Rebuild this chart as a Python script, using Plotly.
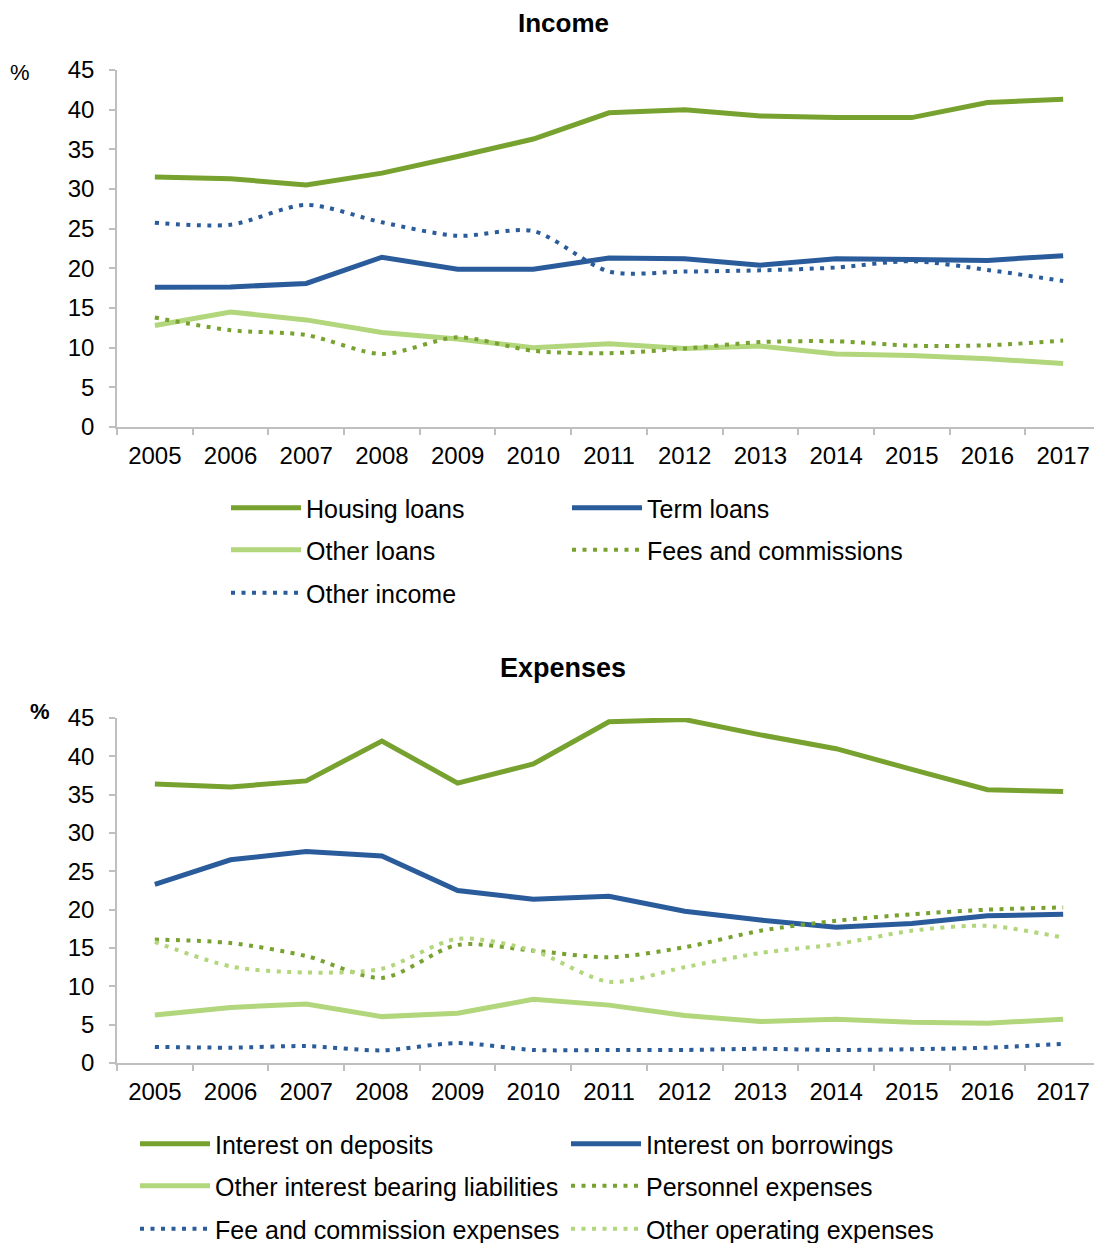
import plotly.graph_objects as go

years = [str(y) for y in range(2005, 2018)]

# Income (%)
housing_loans = [31.5, 31.3, 30.5, 32.0, 34.1, 36.3, 39.6, 40.0, 39.2, 39.0, 39.0, 40.9, 41.3]
term_loans = [17.6, 17.65, 18.1, 21.4, 19.9, 19.9, 21.3, 21.2, 20.4, 21.2, 21.1, 21.0, 21.6]
other_loans = [12.8, 14.5, 13.5, 11.9, 11.1, 10.0, 10.5, 9.9, 10.2, 9.2, 9.0, 8.6, 8.0]
fees_commissions = [13.8, 12.2, 11.6, 9.2, 11.3, 9.6, 9.3, 9.9, 10.7, 10.8, 10.25, 10.3, 10.9]
other_income = [25.75, 25.5, 28.0, 25.8, 24.1, 24.7, 19.6, 19.6, 19.75, 20.1, 20.9, 19.8, 18.4]

# Expenses (%)
int_deposits = [36.4, 36.0, 36.8, 42.0, 36.5, 39.0, 44.5, 44.8, 42.8, 41.0, 38.3, 35.65, 35.4]
int_borrowings = [23.3, 26.5, 27.6, 27.0, 22.5, 21.35, 21.75, 19.8, 18.65, 17.7, 18.2, 19.2, 19.4]
other_ibl = [6.25, 7.25, 7.7, 6.05, 6.5, 8.3, 7.55, 6.2, 5.4, 5.7, 5.3, 5.2, 5.7]
personnel = [16.1, 15.65, 13.95, 11.1, 15.4, 14.65, 13.8, 15.1, 17.25, 18.55, 19.4, 20.0, 20.3]
fee_comm_exp = [2.1, 2.0, 2.2, 1.65, 2.6, 1.7, 1.7, 1.7, 1.85, 1.7, 1.8, 2.0, 2.5]
other_opex = [15.8, 12.6, 11.8, 12.3, 16.2, 14.65, 10.6, 12.5, 14.35, 15.5, 17.25, 17.9, 16.35]

y_ticks = [0, 5, 10, 15, 20, 25, 30, 35, 40, 45]

GREEN = "#78A22F"
BLUE = "#2A5B9B"
LIGHT = "#B2D67B"
FONT = "Liberation Sans, Arial, sans-serif"
PAGE_OFF = 8  # default page body margin
W, H = 1102 - PAGE_OFF, 1243 - PAGE_OFF + 10
DOT = "4px,6.5px"

fig = go.Figure()

def add(x, y, name, color, dotted, xa, ya, legend):
    fig.add_trace(go.Scatter(
        x=x, y=y, name=name, mode="lines",
        line=dict(color=color, width=5 if not dotted else 4,
                  dash=DOT if dotted else "solid",
                  shape="spline" if dotted else "linear",
                  smoothing=0.8 if dotted else None),
        xaxis=xa, yaxis=ya, legend=legend, showlegend=True))

add(years, housing_loans, "Housing loans", GREEN, False, "x", "y", "legend")
add(years, term_loans, "Term loans", BLUE, False, "x", "y", "legend")
add(years, other_loans, "Other loans", LIGHT, False, "x", "y", "legend2")
add(years, fees_commissions, "Fees and commissions", GREEN, True, "x", "y", "legend2")
add(years, other_income, "Other income", BLUE, True, "x", "y", "legend3")

add(years, int_deposits, "Interest on deposits", GREEN, False, "x2", "y2", "legend4")
add(years, int_borrowings, "Interest on borrowings", BLUE, False, "x2", "y2", "legend4")
add(years, other_ibl, "Other interest bearing liabilities", LIGHT, False, "x2", "y2", "legend5")
add(years, personnel, "Personnel expenses", GREEN, True, "x2", "y2", "legend5")
add(years, fee_comm_exp, "Fee and commission expenses", BLUE, True, "x2", "y2", "legend6")
add(years, other_opex, "Other operating expenses", LIGHT, True, "x2", "y2", "legend6")

def py(px):  # page pixel -> paper fraction
    return 1 - (px - PAGE_OFF) / H

def pxx(px):
    return (px - PAGE_OFF) / W

xdom = [pxx(117), min(1.0, pxx(1101))]
axis_common = dict(showline=True, linecolor="#BFBFBF", linewidth=1.5,
                   ticks="outside", tickcolor="#BFBFBF", ticklen=6, tickwidth=1.5,
                   showgrid=False, zeroline=False, automargin=False,
                   tickfont=dict(family=FONT, size=24, color="#000000"))
xcommon = dict(type="category", tickson="boundaries", range=[-0.5, 12.5],
               ticklabelstandoff=6)
ycommon = dict(range=[0, 45], tickvals=y_ticks, ticklabelstandoff=10)

fig.update_layout(
    template="none",
    width=W, height=H, autosize=False,
    margin=dict(l=0, r=0, t=0, b=0, pad=0),
    paper_bgcolor="white", plot_bgcolor="white",
    font=dict(family=FONT, size=20, color="#000000"),
    xaxis=dict(domain=xdom, anchor="y", **xcommon, **axis_common),
    yaxis=dict(domain=[py(427), py(70)], anchor="x", **ycommon, **axis_common),
    xaxis2=dict(domain=xdom, anchor="y2", **xcommon, **axis_common),
    yaxis2=dict(domain=[py(1063), py(718)], anchor="x2", **ycommon, **axis_common),
)

def leg(xpx, ypx, ew):
    return dict(x=pxx(xpx), y=py(ypx), xanchor="left", yanchor="middle",
                orientation="h", itemwidth=70, entrywidth=ew, entrywidthmode="pixels",
                font=dict(family=FONT, size=25, color="#000000"),
                bgcolor="rgba(0,0,0,0)", borderwidth=0, traceorder="normal")

fig.update_layout(
    legend=leg(226, 508, 256),
    legend2=leg(226, 550, 256),
    legend3=leg(226, 593, 256),
    legend4=leg(135, 1144, 346),
    legend5=leg(135, 1186, 346),
    legend6=leg(135, 1229, 346),
)

fig.add_annotation(text="<b>Income</b>", x=pxx(563), y=py(23), xref="paper", yref="paper",
                   showarrow=False, font=dict(family=FONT, size=26, color="#000000"),
                   xanchor="center", yanchor="middle")
fig.add_annotation(text="<b>Expenses</b>", x=pxx(563), y=py(668), xref="paper", yref="paper",
                   showarrow=False, font=dict(family=FONT, size=27, color="#000000"),
                   xanchor="center", yanchor="middle")
fig.add_annotation(text="%", x=pxx(20), y=py(73), xref="paper", yref="paper",
                   showarrow=False, font=dict(family=FONT, size=22, color="#000000"),
                   xanchor="center", yanchor="middle")
fig.add_annotation(text="<b>%</b>", x=pxx(40), y=py(711), xref="paper", yref="paper",
                   showarrow=False, font=dict(family=FONT, size=22, color="#000000"),
                   xanchor="center", yanchor="middle")

fig.write_html("out.html")
